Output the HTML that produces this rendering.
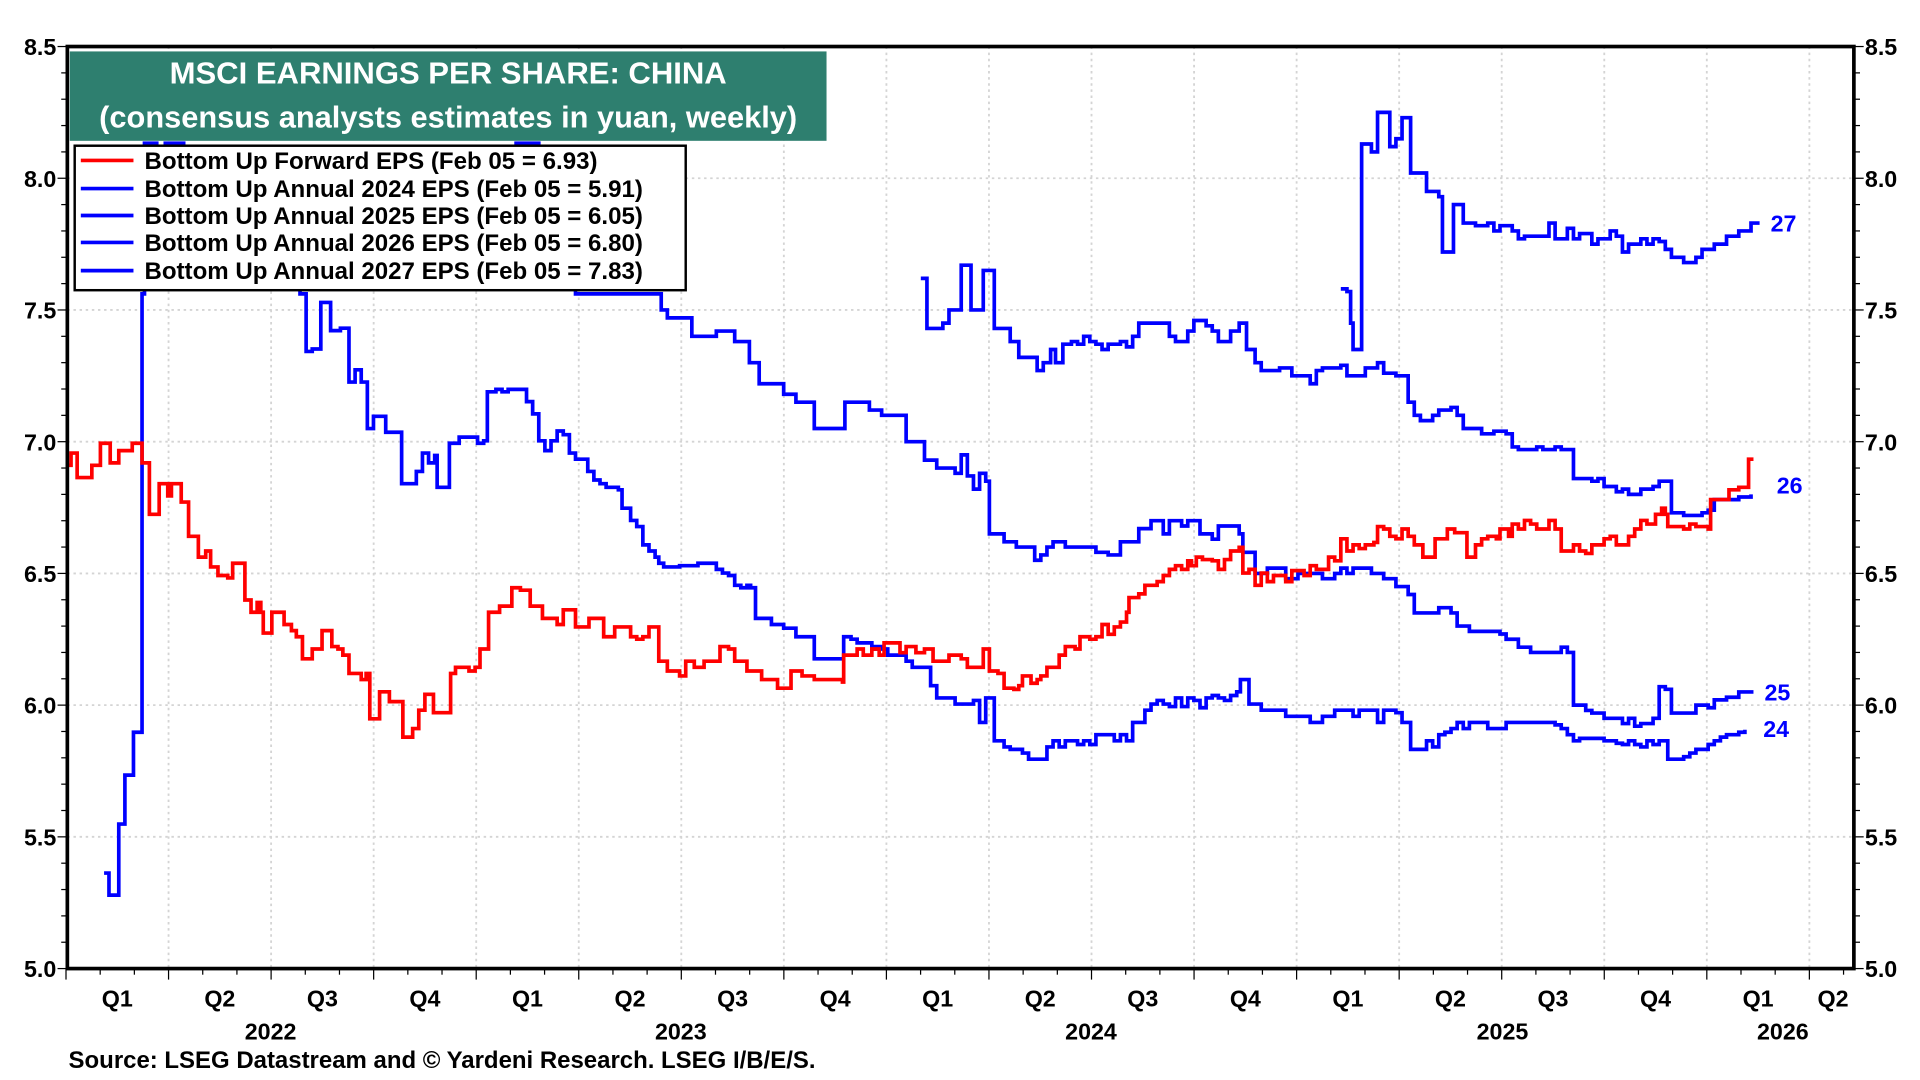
<!DOCTYPE html>
<html><head><meta charset="utf-8"><style>
html,body{margin:0;padding:0;background:#fff}
svg{display:block}
text{font-family:"Liberation Sans",Arial,sans-serif;font-weight:bold}
</style></head><body>
<svg id="s" width="1920" height="1080" viewBox="0 0 1568 882" xmlns="http://www.w3.org/2000/svg">
<rect width="1568" height="882" fill="#fff"/>
<g id="grid"></g>
<g id="series" fill="none" stroke-width="3" stroke-linejoin="miter"></g>
<g id="axes"></g>
<rect x="57" y="42" width="618" height="73" fill="#2e7f6f"/>
<text x="366" y="68" text-anchor="middle" fill="#fff" font-size="25" textLength="455" lengthAdjust="spacingAndGlyphs">MSCI EARNINGS PER SHARE: CHINA</text>
<text x="366" y="104" text-anchor="middle" fill="#fff" font-size="25" textLength="570" lengthAdjust="spacingAndGlyphs">(consensus analysts estimates in yuan, weekly)</text>
<rect x="61" y="119" width="499" height="118" fill="#fff" stroke="#000" stroke-width="2"/>
<g font-size="19.5">
<line x1="66" y1="131" x2="109" y2="131" stroke="#f00" stroke-width="3"/>
<text x="118" y="138" textLength="370" lengthAdjust="spacingAndGlyphs">Bottom Up Forward EPS (Feb 05 = 6.93)</text>
<line x1="66" y1="154" x2="109" y2="154" stroke="#00f" stroke-width="3"/>
<text x="118" y="161" textLength="407" lengthAdjust="spacingAndGlyphs">Bottom Up Annual 2024 EPS (Feb 05 = 5.91)</text>
<line x1="66" y1="176" x2="109" y2="176" stroke="#00f" stroke-width="3"/>
<text x="118" y="183" textLength="407" lengthAdjust="spacingAndGlyphs">Bottom Up Annual 2025 EPS (Feb 05 = 6.05)</text>
<line x1="66" y1="198" x2="109" y2="198" stroke="#00f" stroke-width="3"/>
<text x="118" y="205" textLength="407" lengthAdjust="spacingAndGlyphs">Bottom Up Annual 2026 EPS (Feb 05 = 6.80)</text>
<line x1="66" y1="221" x2="109" y2="221" stroke="#00f" stroke-width="3"/>
<text x="118" y="228" textLength="407" lengthAdjust="spacingAndGlyphs">Bottom Up Annual 2027 EPS (Feb 05 = 7.83)</text>
</g>
<g fill="#00f" font-size="19">
<text x="1446" y="189">27</text>
<text x="1451" y="403">26</text>
<text x="1441" y="572">25</text>
<text x="1440" y="602">24</text>
</g>
<text x="56" y="872" font-size="19.5" textLength="610" lengthAdjust="spacingAndGlyphs">Source: LSEG Datastream and © Yardeni Research. LSEG I/B/E/S.</text>
</svg>
<script>
const NS="http://www.w3.org/2000/svg";
const L=55,R=1514,T=38,B=791;
const Y=v=>B-(v-5)*(B-T)/3.5;
function el(p,tag,a,txt){const e=document.createElementNS(NS,tag);for(const k in a)e.setAttribute(k,a[k]);if(txt)e.textContent=txt;document.getElementById(p).appendChild(e);return e;}
for(let v=5.5;v<8.5;v+=0.5){el('grid','line',{x1:L,x2:R,y1:Y(v),y2:Y(v),stroke:'#d4d4d4','stroke-width':1.5,'stroke-dasharray':'2,3'});}
const Q0=53.9,QW=83.75;
for(let k=1;k<=17;k++){const x=Q0+QW*k;el('grid','line',{x1:x,x2:x,y1:T,y2:B,stroke:'#d4d4d4','stroke-width':1.5,'stroke-dasharray':'2,3'});}
el('axes','rect',{x:L,y:T,width:R-L,height:B-T,fill:'none',stroke:'#000','stroke-width':3});
for(let i=0;i<=35;i++){const v=5+i*0.1,y=Y(v);const big=i%5==0;
 el('axes','line',{x1:L-(big?8:5),x2:L,y1:y,y2:y,stroke:'#000','stroke-width':1});
 el('axes','line',{x1:R,x2:R+(big?8:5),y1:y,y2:y,stroke:'#000','stroke-width':1});
 if(big){const t=v.toFixed(1);
  el('axes','text',{x:L-9,y:y+7,'text-anchor':'end','font-size':19},t);
  el('axes','text',{x:R+9,y:y+7,'font-size':19},t);}
}
for(let m=0;m<=53;m++){const x=Q0+QW*m/3;if(x>R)break;const big=m%3==0;
 el('axes','line',{x1:x,x2:x,y1:B,y2:B+(big?9:5),stroke:'#000','stroke-width':1});}
const qs=['Q1','Q2','Q3','Q4'];
for(let k=0;k<18;k++){let x=Q0+QW*(k+0.5);if(k==17)x=1497;el('axes','text',{x:x,y:822,'text-anchor':'middle','font-size':19},qs[k%4]);}
[[221,'2022'],[556,'2023'],[891,'2024'],[1227,'2025'],[1456,'2026']].forEach(a=>el('axes','text',{x:a[0],y:849,'text-anchor':'middle','font-size':19},a[1]));
function step(pts){let d='M'+pts[0][0]+','+pts[0][1];for(let i=1;i<pts.length;i++){d+=' H'+pts[i][0]+' V'+pts[i][1];}return d;}
function vals(a){const o=[];for(let i=0;i<a.length;i+=2)o.push([a[i],Y(a[i+1])]);return o;}
function ys(a){const o=[];for(let i=0;i<a.length;i+=2)o.push([a[i],a[i+1]]);return o;}
const red=ys([55,380,58,370,63,370,63,390,75,390,75,380,82,380,82,362,90,362,90,378,97,378,97,368,108,368,108,362,113,362,116,378,120,378,122,420,128,420,130,395,135,395,137,405,140,395,146,395,148,410,152,410,154,438,160,438,162,455,168,450,172,463,178,470,186,472,190,460,198,460,200,490,205,500,210,492,213,500,215,517,220,517,222,500,230,500,232,510,238,515,242,520,247,538,252,538,255,530,260,530,263,515,268,515,271,528,276,530,280,535,285,550,290,550,295,555,299,550,302,587,307,587,310,565,316,565,318,573,327,573,329,602,334,602,337,595,342,580,347,567,352,567,354,582,365,582,368,550,372,545,378,545,383,548,388,545,392,530,397,530,399,500,405,500,408,495,415,495,418,480,425,482,430,482,433,495,440,495,443,505,450,505,455,510,460,498,465,498,470,512,478,512,481,505,490,505,493,520,500,520,502,512,510,512,515,520,520,522,525,520,530,512,536,512,538,540,545,548,555,552,560,540,567,545,575,540,585,540,588,528,595,530,600,540,605,540,610,548,618,548,622,555,630,555,635,562,643,562,646,548,655,552,665,555,688,557,689,535,695,535,700,530,705,535,712,530,718,535,722,525,730,525,735,533,740,528,748,533,755,530,762,540,770,540,775,535,785,538,790,545,800,545,803,530,807,530,808,548,815,550,820,562,828,563,832,560,835,552,842,558,847,555,850,552,855,545,860,545,865,535,870,528,878,530,882,520,890,522,895,520,900,510,905,518,910,512,915,508,920,500,922,488,927,488,930,485,935,478,940,478,945,475,950,470,955,465,960,462,965,465,970,458,973,462,977,455,982,457,990,458,995,465,1000,457,1005,450,1012,447,1015,468,1020,465,1025,478,1030,468,1035,475,1040,470,1045,470,1050,475,1055,466,1060,466,1065,470,1070,462,1075,465,1085,455,1090,458,1095,440,1100,450,1105,445,1110,448,1115,445,1122,443,1125,430,1130,432,1135,438,1140,440,1145,432,1150,438,1155,445,1160,445,1162,455,1168,455,1172,440,1178,440,1182,432,1188,435,1195,435,1198,455,1205,445,1210,440,1215,438,1222,440,1225,432,1232,438,1235,428,1240,432,1245,425,1250,428,1255,432,1260,432,1265,425,1270,432,1275,450,1280,450,1285,445,1290,450,1295,452,1300,445,1305,445,1310,440,1315,438,1320,445,1325,445,1330,438,1335,432,1340,425,1345,428,1352,420,1357,415,1360,420,1362,430,1368,430,1375,432,1380,428,1385,430,1390,430,1395,432,1397,408,1405,408,1412,400,1420,398,1425,398,1428,375,1432,375]);
const b1=ys([85,713,89,713,89,731,96,731,97,673,102,673,102,633,108,633,109,598,115,598,116,240,118,117,125,117,128,125,135,117,150,125,170,150,200,180,230,220,238,235,245,240,250,287,255,285,262,247,270,270,278,268,285,312,290,302,295,312,300,350,305,340,310,340,315,353,325,353,328,395,335,395,340,385,345,370,350,378,355,372,357,398,365,398,367,362,375,357,385,357,390,362,395,360,398,320,405,318,410,320,415,318,425,318,430,328,435,338,440,360,445,368,450,360,455,352,460,355,465,370,470,375,475,375,480,385,485,392,490,395,495,398,500,398,505,400,508,415,513,415,515,425,520,430,525,445,530,450,535,455,538,460,542,463,555,462,565,462,570,460,580,460,585,465,590,468,595,470,600,478,605,480,610,478,613,480,617,505,625,505,630,510,640,513,650,520,660,520,665,538,688,538,689,520,695,522,700,525,708,525,712,530,715,528,720,530,725,535,735,535,740,540,745,545,755,545,760,560,765,570,775,570,780,575,790,575,795,572,800,590,803,590,805,570,808,570,812,605,820,610,825,612,835,615,840,620,850,620,855,610,860,605,865,610,870,605,880,608,885,605,890,608,895,600,905,600,910,605,915,600,920,605,925,590,935,580,940,575,945,572,950,575,955,577,960,570,965,577,970,570,975,572,980,578,985,570,990,568,995,570,1000,572,1005,568,1010,565,1013,555,1017,555,1020,575,1025,575,1030,580,1040,580,1050,585,1060,585,1070,590,1075,590,1080,585,1090,580,1100,580,1105,585,1110,580,1120,580,1125,590,1130,580,1140,582,1145,590,1148,590,1152,612,1160,612,1165,605,1170,610,1175,600,1180,598,1185,595,1190,590,1195,595,1200,590,1210,590,1215,595,1220,595,1230,590,1240,590,1270,592,1275,595,1280,600,1285,605,1290,603,1310,605,1320,607,1325,608,1330,605,1335,608,1340,610,1345,605,1350,608,1355,605,1360,605,1362,620,1368,620,1375,618,1380,615,1385,612,1390,612,1395,608,1400,605,1405,602,1410,600,1415,600,1420,598,1425,596]);
const b2=[[420,117],[430,117],[440,150],[455,200],[470,240]].concat(vals([540,7.5,545,7.47,565,7.4,585,7.42,600,7.38,612,7.3,620,7.22,640,7.18,650,7.15,665,7.05,688,7.05,690,7.15,700,7.15,710,7.12,720,7.1,740,7.0,755,6.93,765,6.9,780,6.88,785,6.95,790,6.87,795,6.82,800,6.88,805,6.85,808,6.65,820,6.62,830,6.6,845,6.55,850,6.57,855,6.6,860,6.62,870,6.6,880,6.6,895,6.58,905,6.57,915,6.62,925,6.62,930,6.67,940,6.7,950,6.65,955,6.7,965,6.68,970,6.7,975,6.7,980,6.65,990,6.63,995,6.68,1005,6.68,1012,6.65,1015,6.58,1025,6.5,1035,6.52,1050,6.48,1060,6.5,1070,6.5,1080,6.48,1090,6.5,1095,6.52,1100,6.5,1105,6.52,1120,6.5,1130,6.48,1140,6.45,1150,6.42,1155,6.35,1165,6.35,1175,6.37,1185,6.35,1190,6.3,1200,6.28,1215,6.28,1225,6.27,1230,6.25,1240,6.22,1250,6.2,1270,6.2,1275,6.22,1280,6.2,1285,6.0,1295,5.98,1300,5.97,1310,5.95,1320,5.95,1325,5.93,1330,5.95,1335,5.92,1340,5.93,1350,5.95,1355,6.07,1360,6.06,1365,5.97,1380,5.97,1385,6.0,1395,5.99,1400,6.02,1410,6.03,1420,6.05,1432,6.05]));
const b3=vals([752,7.62,757,7.43,770,7.45,775,7.5,782,7.5,785,7.67,792,7.67,793,7.5,800,7.5,803,7.65,808,7.65,812,7.43,820,7.43,825,7.38,832,7.32,840,7.32,847,7.27,852,7.3,858,7.35,862,7.3,868,7.37,875,7.38,880,7.37,885,7.4,890,7.38,895,7.37,900,7.35,905,7.37,915,7.38,920,7.36,925,7.4,930,7.45,950,7.45,955,7.4,960,7.38,970,7.42,975,7.46,985,7.44,990,7.42,995,7.38,1005,7.42,1012,7.45,1018,7.35,1025,7.3,1030,7.27,1045,7.28,1055,7.25,1065,7.25,1070,7.22,1075,7.27,1080,7.28,1095,7.29,1100,7.25,1110,7.25,1115,7.28,1125,7.3,1130,7.26,1140,7.25,1145,7.25,1150,7.15,1155,7.1,1160,7.08,1170,7.1,1175,7.12,1185,7.13,1190,7.1,1195,7.05,1210,7.03,1220,7.04,1230,7.03,1235,6.98,1240,6.97,1255,6.98,1260,6.97,1270,6.98,1275,6.97,1285,6.86,1300,6.85,1305,6.86,1310,6.83,1320,6.81,1325,6.82,1330,6.8,1340,6.82,1350,6.83,1355,6.85,1360,6.85,1365,6.73,1375,6.72,1380,6.72,1390,6.73,1395,6.74,1400,6.78,1410,6.78,1420,6.79,1430,6.8]);
const b4=vals([1095,7.58,1100,7.57,1103,7.45,1105,7.35,1110,7.35,1112,8.13,1118,8.13,1120,8.1,1125,8.25,1132,8.25,1135,8.12,1140,8.15,1145,8.23,1150,8.23,1152,8.02,1160,8.02,1165,7.95,1170,7.95,1175,7.93,1178,7.72,1183,7.72,1187,7.9,1195,7.83,1205,7.82,1215,7.83,1220,7.8,1225,7.82,1235,7.8,1240,7.77,1245,7.78,1255,7.78,1265,7.83,1270,7.77,1280,7.81,1285,7.77,1290,7.79,1300,7.75,1305,7.77,1310,7.77,1315,7.8,1320,7.78,1325,7.72,1330,7.75,1340,7.77,1345,7.75,1350,7.77,1355,7.76,1360,7.73,1365,7.7,1375,7.68,1385,7.7,1390,7.73,1400,7.75,1410,7.78,1420,7.8,1430,7.83,1437,7.83]);
[b1,b2,b3,b4].forEach(p=>el('series','path',{d:step(p),stroke:'#00f'}));
el('series','path',{d:step(red),stroke:'#f00'});
</script>
</body></html>
